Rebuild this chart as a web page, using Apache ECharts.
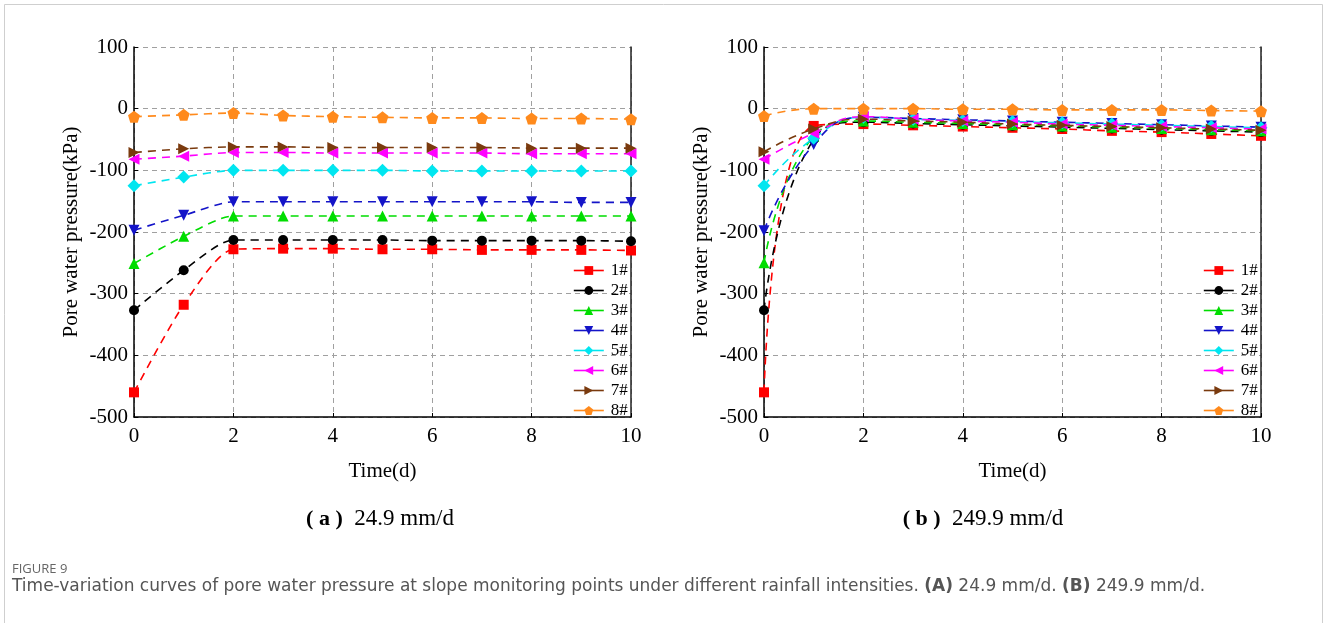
<!DOCTYPE html>
<html>
<head>
<meta charset="utf-8">
<title>Pore water pressure at slope monitoring points</title>
<script src="https://cdn.jsdelivr.net/npm/echarts@6/dist/echarts.min.js"></script>
<style>
  html, body { margin: 0; padding: 0; background: #fff; }
  #chart { width: 1328px; height: 623px; }
</style>
</head>
<body>
<div id="chart"></div>
<script>
// Time steps (days)
const days = [0, 1, 2, 3, 4, 5, 6, 7, 8, 9, 10];
const pointNames = ['1#', '2#', '3#', '4#', '5#', '6#', '7#', '8#'];

// (a) rainfall 24.9 mm/d — pore water pressure (kPa) per monitoring point
const lowP1 = [-460, -318, -228, -227, -227, -228, -228, -229, -229, -229, -230];
const lowP2 = [-327, -262, -213, -213, -213, -213, -214, -214, -214, -214, -215];
const lowP3 = [-251, -207, -174, -174, -174, -174, -174, -174, -174, -174, -174];
const lowP4 = [-197, -173, -151, -151, -151, -151, -151, -151, -151, -152, -152];
const lowP5 = [-125, -111, -100, -100, -100, -100, -101, -101, -101, -101, -101];
const lowP6 = [-82, -77, -71, -71, -72, -72, -72, -72, -73, -73, -73];
const lowP7 = [-71, -65, -62, -62, -63, -63, -63, -63, -64, -64, -64];
const lowP8 = [-13, -10, -7, -11, -13, -14, -15, -15, -16, -16, -17];

// (b) rainfall 249.9 mm/d
const highP1 = [-460, -28, -25, -27, -29, -31, -33, -36, -38, -41, -44];
const highP2 = [-327, -50, -22, -24, -26, -28, -30, -32, -34, -36, -38];
const highP3 = [-250, -45, -20, -22, -24, -26, -28, -30, -32, -34, -36];
const highP4 = [-198, -58, -14, -16, -18, -20, -22, -24, -26, -28, -30];
const highP5 = [-125, -48, -14, -17, -19, -21, -23, -25, -27, -29, -31];
const highP6 = [-82, -40, -13, -17, -20, -22, -25, -27, -29, -31, -33];
const highP7 = [-70, -33, -17, -20, -22, -25, -27, -29, -31, -33, -35];
const highP8 = [-12, 0, 0, 0, -1, -1, -2, -2, -2, -3, -4];

// Axis ticks
const yTicks = { min: -500, max: 100, interval: 100 };
const xTicks = { min: 0, max: 10, interval: 2 };

const lowSets = [lowP1, lowP2, lowP3, lowP4, lowP5, lowP6, lowP7, lowP8];
const highSets = [highP1, highP2, highP3, highP4, highP5, highP6, highP7, highP8];

const colors = ['#ff0000', '#000000', '#00dd00', '#1414c8', '#00e6f0', '#ff00ff', '#7a3a0e', '#ff8a1c'];
const pentagon = 'path://M0,-10 L9.51,-3.09 L5.88,8.09 L-5.88,8.09 L-9.51,-3.09 Z';
const symbols = [
  { symbol: 'rect', size: 10, rotate: 0 },
  { symbol: 'circle', size: 10, rotate: 0 },
  { symbol: 'triangle', size: 11, rotate: 0 },
  { symbol: 'triangle', size: 11, rotate: 180 },
  { symbol: 'diamond', size: 13, rotate: 0 },
  { symbol: 'triangle', size: 11, rotate: 90 },
  { symbol: 'triangle', size: 11, rotate: -90 },
  { symbol: pentagon, size: 12, rotate: 0 }
];

const serif = '"Liberation Serif", "Times New Roman", serif';
const captionFont = '"DejaVu Sans", "Noto Sans", sans-serif';

function makeSeries(sets, gridIdx, smooth) {
  return sets.map((vals, i) => ({
    name: pointNames[i],
    type: 'line',
    xAxisIndex: gridIdx,
    yAxisIndex: gridIdx * 2,
    data: days.map((d, k) => [d, vals[k]]),
    smooth: smooth,
    symbol: symbols[i].symbol,
    symbolSize: symbols[i].size,
    symbolRotate: symbols[i].rotate,
    showAllSymbol: true,
    itemStyle: { color: colors[i] },
    lineStyle: { color: colors[i], width: 1.6, type: [8, 6] },
    emphasis: { disabled: true },
    animation: false,
    z: 3 + i
  }));
}

const gridW = 497, gridH = 370, gridTop = 47;
const gridLefts = [134, 764];

function xAxisFor(i) {
  return {
    type: 'value', gridIndex: i, ...xTicks,
    name: 'Time(d)', nameLocation: 'middle', nameGap: 44,
    nameTextStyle: { fontFamily: serif, fontSize: 21, color: '#000' },
    axisLine: { show: true, onZero: false, lineStyle: { color: '#000', width: 1.5 } },
    axisTick: { show: true, inside: true, length: 4, lineStyle: { color: '#000' } },
    axisLabel: { fontFamily: serif, fontSize: 21, color: '#000', margin: 9 },
    splitLine: { show: true, lineStyle: { color: '#a0a0a0', type: [5, 4], width: 1 } }
  };
}
function yAxesFor(i) {
  return [{
    type: 'value', gridIndex: i, ...yTicks,
    name: 'Pore water pressure(kPa)', nameLocation: 'middle', nameGap: 52,
    nameTextStyle: { fontFamily: serif, fontSize: 21, color: '#000' },
    axisLine: { show: true, onZero: false, lineStyle: { color: '#000', width: 1.5 } },
    axisTick: { show: true, inside: true, length: 4, lineStyle: { color: '#000' } },
    axisLabel: { fontFamily: serif, fontSize: 21, color: '#000', margin: 6 },
    splitLine: { show: true, lineStyle: { color: '#a0a0a0', type: [5, 4], width: 1 } }
  }, {
    type: 'value', gridIndex: i, position: 'right', ...yTicks,
    axisLine: { show: true, onZero: false, lineStyle: { color: '#222', width: 1.5 } },
    axisTick: { show: false }, axisLabel: { show: false }, splitLine: { show: false }
  }];
}

function legendFor(i) {
  return {
    orient: 'vertical',
    left: gridLefts[i] + 434,
    top: 257,
    itemWidth: 30, itemHeight: 11,
    itemGap: 3,
    data: pointNames,
    selectedMode: false,
    lineStyle: { type: 'solid', width: 1.6 },
    textStyle: { fontFamily: serif, fontSize: 17, color: '#000', padding: [0, 0, 0, 2] }
  };
}

const chart = echarts.init(document.getElementById('chart'), null, { renderer: 'canvas' });
chart.setOption({
  backgroundColor: '#fff',
  animation: false,
  grid: gridLefts.map(l => ({ left: l, top: gridTop, width: gridW, height: gridH })),
  xAxis: [xAxisFor(0), xAxisFor(1)],
  yAxis: [...yAxesFor(0), ...yAxesFor(1)],
  legend: [legendFor(0), legendFor(1)],
  series: [...makeSeries(lowSets, 0, 0.25), ...makeSeries(highSets, 1, 0.5)],
  graphic: [
    {
      type: 'rect', silent: true, z: -10,
      shape: { x: 4.5, y: 4.5, width: 1318, height: 640 },
      style: { fill: 'none', stroke: '#cfcfcf', lineWidth: 1 }
    },
    {
      type: 'text', silent: true,
      style: {
        x: 380, y: 519, align: 'center', verticalAlign: 'middle',
        text: '{b|( a )}  24.9 mm/d',
        font: '23px ' + serif, fill: '#000',
        rich: { b: { fontFamily: serif, fontSize: 22, fontWeight: 'bold' } }
      }
    },
    {
      type: 'text', silent: true,
      style: {
        x: 983, y: 519, align: 'center', verticalAlign: 'middle',
        text: '{b|( b )}  249.9 mm/d',
        font: '23px ' + serif, fill: '#000',
        rich: { b: { fontFamily: serif, fontSize: 22, fontWeight: 'bold' } }
      }
    },
    {
      type: 'text', silent: true,
      style: {
        x: 12, y: 569, align: 'left', verticalAlign: 'middle',
        text: 'FIGURE 9',
        font: '13px "Open Sans", "Noto Sans", sans-serif', fill: '#666'
      }
    },
    {
      type: 'text', silent: true,
      style: {
        x: 12, y: 587, align: 'left', verticalAlign: 'middle',
        text: 'Time-variation curves of pore water pressure at slope monitoring points under different rainfall intensities. {b|(A)} 24.9 mm/d. {b|(B)} 249.9 mm/d.',
        font: '17px ' + captionFont, fill: '#555',
        rich: { b: { fontFamily: captionFont, fontSize: 17, fontWeight: 'bold', fill: '#555' } }
      }
    }
  ]
});
</script>
</body>
</html>
